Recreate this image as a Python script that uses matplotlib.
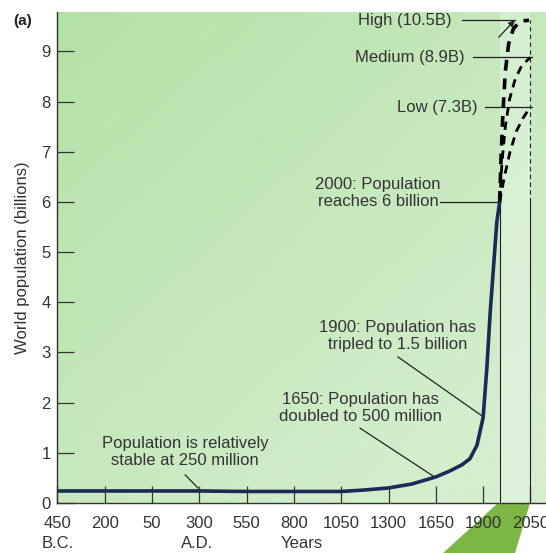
import numpy as np
import matplotlib
matplotlib.use("Agg")
import matplotlib.pyplot as plt
from matplotlib.patches import Polygon

plt.rcParams['font.family'] = ['Liberation Sans', 'DejaVu Sans']

# x axis is categorical-ish: evenly spaced tick positions
tick_labels = ['450', '200', '50', '300', '550', '800', '1050', '1300', '1650', '1900', '2050']
tick_pos = list(range(len(tick_labels)))

# historical population (x in tick-index units, billions)
hist_x = [0, 1, 2, 3, 4, 5, 6, 6.5, 7, 7.5, 8, 8.3, 8.55, 8.72, 8.87, 9.0, 9.08, 9.15, 9.22, 9.29, 9.35]
hist_y = [0.24, 0.24, 0.24, 0.24, 0.23, 0.23, 0.23, 0.26, 0.30, 0.38, 0.52, 0.64, 0.76, 0.88, 1.15, 1.7, 2.7, 3.8, 4.7, 5.6, 6.0]

# projections to 2050
high_x = [9.35, 9.38, 9.42, 9.47, 9.54, 9.64, 9.78, 9.97]
high_y = [6.0, 6.9, 7.8, 8.6, 9.15, 9.45, 9.6, 9.62]
med_x = [9.35, 9.40, 9.47, 9.56, 9.68, 9.82, 10.0]
med_y = [6.0, 6.8, 7.5, 8.05, 8.45, 8.72, 8.88]
low_x = [9.35, 9.45, 9.57, 9.70, 9.85, 10.0]
low_y = [6.0, 6.5, 7.0, 7.4, 7.68, 7.89]

fig = plt.figure(figsize=(5.46, 5.53), dpi=100)
ax = fig.add_axes([0.1053, 0.0904, 0.8947, 0.8876])
xmax, ymax = 10.33, 9.78
ax.set_xlim(0, xmax)
ax.set_ylim(0, ymax)

# green background gradient
gx, gy = np.meshgrid(np.linspace(0, 1, 80), np.linspace(1, 0, 80))
w = np.clip(0.55 * gx + 0.6 * (1 - gy), 0, 1)[..., None]
c_tl = np.array([180, 225, 166]) / 255.0
c_br = np.array([212, 238, 206]) / 255.0
img = c_tl * (1 - w) + c_br * w
ax.imshow(img, extent=[0, xmax, 0, ymax], aspect='auto', zorder=0, interpolation='bilinear')
ax.axvspan(9.35, 10.0, color=(0.89, 0.96, 0.89), alpha=0.55, zorder=0.5, lw=0)

# reference verticals
ax.plot([9.35, 9.35], [0, 6.0], color='#222222', lw=0.8, zorder=2)
ax.plot([10.0, 10.0], [0, 6.0], color='#222222', lw=0.8, zorder=2)
ax.plot([10.0, 10.0], [6.0, 9.62], color='#222222', lw=0.8, ls=(0, (4, 3)), zorder=2)

ax.plot(hist_x, hist_y, color='#1b2a55', lw=2.6, solid_capstyle='round', zorder=4)
ax.plot(high_x, high_y, color='black', lw=2.6, ls=(0, (3, 2.2)), zorder=4)
ax.plot(med_x, med_y, color='black', lw=2.0, ls=(0, (3, 2.2)), zorder=4)
ax.plot(low_x, low_y, color='black', lw=2.0, ls=(0, (3, 2.2)), zorder=4)

# arrow for high projection off the chart
ax.annotate('', xy=(9.71, 9.66), xytext=(9.29, 9.24),
            arrowprops=dict(arrowstyle='-|>', color='#222222', lw=0.9, mutation_scale=9), zorder=5)

tc = '#333333'
fs = 12
ls_ = 1.2
ax.text(8.34, 9.62, 'High (10.5B)', ha='right', va='center', fontsize=fs, color=tc)
ax.plot([8.55, 9.67], [9.62, 9.62], color='#222222', lw=0.9, zorder=3)
ax.text(8.61, 8.88, 'Medium (8.9B)', ha='right', va='center', fontsize=fs, color=tc)
ax.plot([8.78, 10.03], [8.88, 8.88], color='#222222', lw=0.9, zorder=3)
ax.text(8.89, 7.89, 'Low (7.3B)', ha='right', va='center', fontsize=fs, color=tc)
ax.plot([9.04, 10.03], [7.89, 7.89], color='#222222', lw=0.9, zorder=3)

ax.text(6.78, 6.18, '2000: Population\nreaches 6 billion', ha='center', va='center',
        fontsize=fs, color=tc, linespacing=ls_)
ax.plot([8.09, 9.33], [6.0, 6.0], color='#222222', lw=0.9, zorder=3)

ax.text(7.2, 3.33, '1900: Population has\ntripled to 1.5 billion', ha='center', va='center',
        fontsize=fs, color=tc, linespacing=ls_)
ax.plot([7.2, 9.0], [2.91, 1.72], color='#222222', lw=0.9, zorder=3)

ax.text(6.4, 1.89, '1650: Population has\ndoubled to 500 million', ha='center', va='center',
        fontsize=fs, color=tc, linespacing=ls_)
ax.plot([6.4, 7.94], [1.49, 0.54], color='#222222', lw=0.9, zorder=3)

ax.text(2.7, 1.02, 'Population is relatively\nstable at 250 million', ha='center', va='center',
        fontsize=fs, color=tc, linespacing=ls_)
ax.plot([2.7, 2.97], [0.56, 0.3], color='#222222', lw=0.9, zorder=3)

# axes styling
for s in ['top', 'right']:
    ax.spines[s].set_visible(False)
for s in ['left', 'bottom']:
    ax.spines[s].set_color('#333333')
    ax.spines[s].set_linewidth(1.0)
    ax.spines[s].set_zorder(6)

ax.set_xticks(tick_pos)
ax.set_xticklabels(tick_labels)
ax.set_yticks(range(10))
ax.tick_params(axis='both', direction='in', length=12, width=0.9, color='#333333',
               labelsize=12, labelcolor=tc)
ax.tick_params(axis='x', pad=9)
ax.tick_params(axis='y', pad=5)
ax.set_ylabel('World population (billions)', fontsize=12, color=tc, labelpad=8)

fig.text(23 / 546, 1 - 21 / 553, '(a)', fontsize=11, fontweight='bold', ha='center', va='center', color='#222222')
fig.text(42 / 546, 1 - 544 / 553, 'B.C.', fontsize=12, ha='left', va='center', color=tc)
fig.text(197 / 546, 1 - 544 / 553, 'A.D.', fontsize=12, ha='center', va='center', color=tc)
fig.text(302 / 546, 1 - 544 / 553, 'Years', fontsize=12, ha='center', va='center', color=tc)

# green zoom wedge below the axis (drawn beneath the tick labels)
wedge = Polygon([(498 / 546, 1 - 503 / 553), (530 / 546, 1 - 503 / 553),
                 (515 / 546, 0), (443 / 546, 0)],
                closed=True, transform=fig.transFigure, color='#7cb646', lw=0, zorder=-1)
fig.patches.append(wedge)

fig.savefig('out.png', dpi=100)
